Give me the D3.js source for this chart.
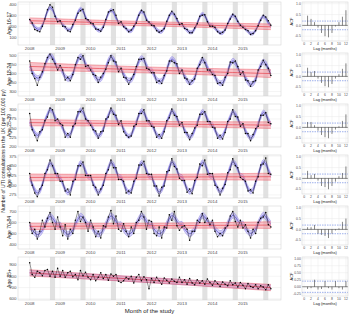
<!DOCTYPE html>
<html><head><meta charset="utf-8">
<script src="https://cdn.jsdelivr.net/npm/d3@7"></script>
<style>body{margin:0;background:#fff} svg{display:block;font-family:"Liberation Sans",Arial,sans-serif}</style>
</head><body><div id="chart"></div>
<script>
const groups = ['Age 16-17', 'Age 18-24', 'Age 25-39', 'Age 40-69', 'Age 70-84', 'Age 85+'];
const yearLabels = ['2008', '2009', '2010', '2011', '2012', '2013', '2014', '2015'];
const yTicks = [[100, 200, 300, 400], [300, 350, 400, 450, 500], [200, 225, 250, 275, 300], [275, 300, 325, 350, 375], [400, 500, 600, 700], [600, 700, 800, 900]];
const yDomains = [[30, 420], [275, 515], [198, 316], [267, 378], [360, 750], [590, 970]];
// grey periods, months since Jan 2008
const bandStart = [8, 20, 32, 44, 56, 68, 80, 92];
const bandEnd = [10, 22, 34, 46, 58, 70, 82, 94];

const obs16 = [262,230,170,160,150,200,265,350,395,372,290,240, 250,200,196,160,150,215,255,318,340,355,270,258,
  230,222,175,170,155,190,262,330,340,350,300,225, 240,195,180,150,165,200,230,300,345,330,255,238,
  210,205,160,145,160,178,245,300,335,310,270,215, 225,180,170,140,140,185,222,290,300,305,240,200,
  200,190,150,135,145,165,225,265,310,290,245,210, 190,170,160,125,135,160,205,255,300,285,250,210];
const fit16 = [255,225,195,175,175,210,270,335,370,350,295,255, 245,218,190,170,170,205,262,325,358,338,285,245,
  238,210,183,164,164,198,253,315,346,327,276,237, 230,203,177,158,158,191,244,304,334,316,266,229,
  222,196,171,152,152,184,236,293,322,304,257,221, 214,189,164,147,147,178,228,283,311,294,248,213,
  207,182,158,141,141,171,219,272,299,283,239,205, 199,176,152,136,136,165,211,262,288,272,230,198];
const obs18 = [470,400,372,335,380,410,455,490,510,480,455,420, 445,420,365,380,360,395,450,490,480,500,440,445,
  420,395,390,350,380,400,425,460,500,470,465,410, 430,380,375,340,370,395,440,480,480,485,430,425,
  405,405,350,360,345,390,415,470,470,460,455,400, 420,375,370,340,360,370,430,450,490,460,420,420,
  395,390,345,350,335,380,400,465,460,470,440,395, 410,365,360,330,355,360,420,440,475,450,430,390];
const fit18 = [438,412,386,375,379,403,443,482,501,491,460,434, 433,408,382,371,375,399,438,477,496,486,455,430,
  428,403,377,366,370,394,433,472,491,481,450,425, 423,398,372,361,365,389,428,467,486,476,445,420,
  418,393,367,356,360,384,423,462,481,471,440,415, 413,388,362,351,355,379,418,457,476,466,435,410,
  408,383,357,346,350,374,413,452,471,461,430,405, 403,378,352,341,345,369,408,447,466,456,425,400];
const obs25 = [290,245,230,215,240,245,270,280,305,300,270,275, 262,258,225,235,225,255,262,295,295,305,275,270,
  258,245,242,222,240,242,275,280,305,288,285,260, 270,240,230,225,228,255,260,290,290,300,270,270,
  255,252,225,232,222,240,270,278,302,285,282,258, 265,238,238,218,235,250,258,288,288,295,268,268,
  252,250,222,230,220,238,268,275,300,282,280,255, 262,235,235,215,232,248,255,285,285,292,265,262];
const fit25 = [265,250,237,230,235,250,270,287,300,295,280,267, 264,249,236,229,234,249,269,286,299,294,279,266,
  263,248,235,228,233,248,268,285,298,293,278,265, 262,247,234,227,232,247,267,284,297,292,277,264,
  261,246,233,226,231,246,266,283,296,291,276,263, 260,245,232,225,230,245,265,282,295,290,275,262,
  259,244,231,224,229,244,264,281,294,289,274,261, 258,243,230,223,228,243,263,280,293,288,273,260];
const obs40 = [330,300,280,270,290,300,330,340,365,350,330,330, 310,310,285,290,275,310,315,350,350,360,325,325,
  325,300,295,275,290,300,330,340,365,345,345,315, 315,310,280,285,280,310,318,352,352,362,330,328,
  328,298,298,272,295,298,335,338,368,348,342,318, 312,312,282,290,278,312,320,355,350,365,328,330,
  330,300,295,275,292,302,332,340,368,350,345,320, 315,310,285,288,280,310,322,352,355,370,330,328];
const fit40 = [318,303,288,280,285,303,323,343,356,351,336,321, 319,304,289,281,286,304,324,344,357,352,337,322,
  320,305,290,282,287,305,325,345,358,353,338,323, 320,305,290,282,287,305,325,345,358,353,338,323,
  321,306,291,283,288,306,326,346,359,354,339,324, 321,306,291,283,288,306,326,346,359,354,339,324,
  322,307,292,284,289,307,327,347,360,355,340,325, 322,307,292,284,289,307,327,347,360,355,340,325];
const obs70 = [600,500,540,450,520,620,560,640,690,600,540,650, 560,480,580,450,540,500,620,700,610,650,600,520,
  620,560,470,520,460,570,560,650,710,590,660,540, 520,590,520,470,560,500,600,620,700,650,540,620,
  610,500,480,560,460,560,550,670,620,700,570,530, 560,570,540,440,520,520,620,600,680,600,640,580,
  620,520,470,500,480,550,570,660,700,610,560,620, 550,580,520,460,540,500,600,640,650,690,580,560];
const fit70 = [576,536,506,491,501,531,581,626,656,641,606,576, 578,538,508,493,503,533,583,628,658,643,608,578,
  580,540,510,495,505,535,585,630,660,645,610,580, 581,541,511,496,506,536,586,631,661,646,611,581,
  583,543,513,498,508,538,588,633,663,648,613,583, 584,544,514,499,509,539,589,634,664,649,614,584,
  586,546,516,501,511,541,591,636,666,651,616,586, 587,547,517,502,512,542,592,637,667,652,617,587];
const obs85 = [920,815,790,845,830,805,850,860,800,845,790,870, 800,850,790,830,845,795,815,770,850,805,835,790,
  770,815,760,790,830,780,815,765,820,800,815,755, 745,760,790,775,800,740,790,815,760,795,770,690,
  780,745,790,760,730,785,765,740,775,755,745,790, 745,770,730,780,740,725,770,740,760,730,775,745,
  720,760,735,710,750,730,715,760,725,740,705,745, 720,690,735,710,700,725,690,715,705,680,725,690];
const fit85 = [830,829,827,826,825,823,822,820,819,818,816,815, 814,812,811,809,808,807,805,804,803,801,800,799,
  797,796,795,793,792,790,789,788,786,785,784,782, 781,779,778,777,775,774,773,771,770,768,767,766,
  764,763,762,760,759,757,756,755,753,752,751,749, 748,746,745,744,742,741,740,738,737,736,734,733,
  731,730,729,727,726,725,723,722,720,719,718,716, 715,714,712,711,709,708,707,705,704,703,701,700];
const observed = [obs16, obs18, obs25, obs40, obs70, obs85];
const fitted = [fit16, fit18, fit25, fit40, fit70, fit85];
const fitCI = [15, 14, 6, 6, 26, 22];
// linear trend: start, end, CI half width at ends and centre
const trendFrom = [250, 440, 265, 320, 565, 830];
const trendTo = [195, 400, 258, 322, 577, 700];
const trendCIEnd = [26, 22, 9, 9, 30, 28];
const trendCIMid = [16, 14, 6, 6, 20, 20];

const acfTicksA = [-0.5, 0, 0.5, 1];
const acfTicksB = [-0.25, 0, 0.25, 0.5, 0.75, 1];
const acfLags = [1,2,3,4,5,6,7,8,9,10,11,12];
const acf16 = [0.45, 0.3, 0.15, -0.1, -0.35, -0.5, -0.55, -0.35, -0.05, 0.15, 0.4, 0.7];
const acf18 = [0.4, 0.2, 0.25, -0.1, -0.3, -0.45, -0.5, -0.35, -0.1, 0.1, 0.35, 0.6];
const acf25 = [0.25, 0.25, 0.1, -0.15, -0.35, -0.45, -0.5, -0.3, -0.1, 0.05, 0.3, 0.6];
const acf40 = [0.35, 0.15, 0.2, -0.1, -0.35, -0.4, -0.5, -0.35, -0.15, 0.1, 0.25, 0.55];
const acf70 = [0.1, 0.1, 0.2, -0.2, -0.25, -0.3, -0.4, -0.2, -0.05, 0.05, 0.35, 0.5];
const acf85 = [-0.08, -0.05, 0.25, -0.1, -0.08, 0.2, -0.05, -0.1, 0.2, -0.05, -0.1, 0.2];
const acfs = [acf16, acf18, acf25, acf40, acf70, acf85];
const acfCI = 0.2;

const W = 350, H = 318;
const svg = d3.select('#chart').append('svg').attr('width', W).attr('height', H);
const L = { x0: 18, x1: 281, top: [2, 53, 104, 155, 206, 257], h: 43 };
const A = { x0: 302, x1: 348, h: 39 };
const grid = '#ebebeb', tickCol = '#4d4d4d';

const x = d3.scaleLinear().domain([-4.6, 99]).range([L.x0, L.x1]);
const xa = d3.scaleLinear().domain([-0.6, 12.6]).range([A.x0, A.x1]);

groups.forEach((g, i) => {
  const t = L.top[i], b = t + L.h;
  const y = d3.scaleLinear().domain(yDomains[i]).range([b, t]);
  const p = svg.append('g');
  p.selectAll('.hg').data(yTicks[i]).enter().append('line')
    .attr('x1', L.x0).attr('x2', L.x1).attr('y1', d => y(d)).attr('y2', d => y(d)).attr('stroke', grid).attr('stroke-width', 0.5);
  p.selectAll('.vg').data(yearLabels).enter().append('line')
    .attr('x1', (d, k) => x(k * 12)).attr('x2', (d, k) => x(k * 12)).attr('y1', t).attr('y2', b).attr('stroke', grid).attr('stroke-width', 0.5);
  p.selectAll('.band').data(bandStart).enter().append('rect')
    .attr('x', d => x(d)).attr('width', (d, k) => x(bandEnd[k]) - x(d)).attr('y', t).attr('height', L.h).attr('fill', '#d9d9d9').attr('opacity', 0.8);

  const clip = 'clip' + i;
  svg.append('clipPath').attr('id', clip).append('rect').attr('x', L.x0).attr('y', t).attr('width', L.x1 - L.x0).attr('height', L.h);
  const c = p.append('g').attr('clip-path', `url(#${clip})`);

  // seasonal fit with CI
  const fd = fitted[i].map((v, m) => ({ m, v }));
  c.append('path').attr('d', d3.area().x(d => x(d.m)).y0(d => y(d.v - fitCI[i])).y1(d => y(d.v + fitCI[i])).curve(d3.curveCatmullRom)(fd))
    .attr('fill', '#a79ff0').attr('opacity', 0.5);
  [-1, 1].forEach(s => c.append('path').attr('d', d3.line().x(d => x(d.m)).y(d => y(d.v + s * fitCI[i])).curve(d3.curveCatmullRom)(fd))
    .attr('fill', 'none').attr('stroke', '#7b6fe0').attr('stroke-width', 0.4));
  c.append('path').attr('d', d3.line().x(d => x(d.m)).y(d => y(d.v)).curve(d3.curveCatmullRom)(fd))
    .attr('fill', 'none').attr('stroke', '#4a3fc8').attr('stroke-width', 0.7);

  // linear trend with CI, drawn over the fit
  const tr = [0, 47.5, 95].map((m, k) => {
    const v = trendFrom[i] + (trendTo[i] - trendFrom[i]) * m / 95;
    const w = k === 1 ? trendCIMid[i] : trendCIEnd[i];
    return { m, v, lo: v - w, hi: v + w };
  });
  const trArea = d3.area().x(d => x(d.m)).y0(d => y(d.lo)).y1(d => y(d.hi)).curve(d3.curveBasis);
  c.append('path').attr('d', trArea(tr)).attr('fill', '#f58a98').attr('opacity', 0.5);
  ['lo', 'v', 'hi'].forEach(key => {
    c.append('path').attr('d', d3.line().x(d => x(d.m)).y(d => y(d[key])).curve(d3.curveBasis)(tr))
      .attr('fill', 'none').attr('stroke', '#e8454f').attr('stroke-width', key === 'v' ? 0.7 : 0.4);
  });

  // observed
  const od = observed[i].map((v, m) => ({ m, v }));
  c.append('path').attr('d', d3.line().x(d => x(d.m)).y(d => y(d.v))(od)).attr('fill', 'none').attr('stroke', '#111').attr('stroke-width', 0.45);
  c.selectAll('circle').data(od).enter().append('circle').attr('cx', d => x(d.m)).attr('cy', d => y(d.v)).attr('r', 0.75).attr('fill', '#000');

  p.append('rect').attr('x', L.x0).attr('y', t).attr('width', L.x1 - L.x0).attr('height', L.h).attr('fill', 'none').attr('stroke', '#cfcfcf').attr('stroke-width', 0.5);

  p.selectAll('.yl').data(yTicks[i]).enter().append('text').attr('x', L.x0 - 1.5).attr('y', d => y(d) + 1.5)
    .attr('text-anchor', 'end').attr('fill', tickCol).style('font-size', '4.4px').text(d => d);
  p.selectAll('.xl').data(yearLabels).enter().append('text').attr('x', (d, k) => x(k * 12)).attr('y', b + 4.8)
    .attr('text-anchor', 'middle').attr('fill', tickCol).style('font-size', '4.4px').text(d => d);
  p.append('text').attr('transform', `translate(11,${t + L.h / 2}) rotate(-90)`).attr('text-anchor', 'middle')
    .style('font-size', '5px').attr('fill', '#222').text(g);

  // ACF panel
  const ab = t + A.h;
  const ticks = i === 5 ? acfTicksB : acfTicksA;
  const ya = d3.scaleLinear().domain(i === 5 ? [-0.33, 1.06] : [-0.72, 1.08]).range([ab, t]);
  const q = svg.append('g');
  q.selectAll('.ah').data(ticks).enter().append('line').attr('x1', A.x0).attr('x2', A.x1).attr('y1', d => ya(d)).attr('y2', d => ya(d)).attr('stroke', grid).attr('stroke-width', 0.5);
  q.selectAll('.av').data(d3.range(0, 13, 2)).enter().append('line').attr('x1', d => xa(d)).attr('x2', d => xa(d)).attr('y1', t).attr('y2', ab).attr('stroke', grid).attr('stroke-width', 0.5);
  q.append('line').attr('x1', A.x0).attr('x2', A.x1).attr('y1', ya(0)).attr('y2', ya(0)).attr('stroke', '#222').attr('stroke-width', 0.5);
  [acfCI, -acfCI].forEach(v => q.append('line').attr('x1', A.x0).attr('x2', A.x1).attr('y1', ya(v)).attr('y2', ya(v))
    .attr('stroke', '#3f63d9').attr('stroke-width', 0.5).attr('stroke-dasharray', '1.5,1'));
  q.selectAll('.bar').data(acfs[i]).enter().append('line').attr('x1', (d, k) => xa(acfLags[k])).attr('x2', (d, k) => xa(acfLags[k]))
    .attr('y1', ya(0)).attr('y2', d => ya(d)).attr('stroke', '#222').attr('stroke-width', 0.55);
  q.append('rect').attr('x', A.x0).attr('y', t).attr('width', A.x1 - A.x0).attr('height', A.h).attr('fill', 'none').attr('stroke', '#cfcfcf').attr('stroke-width', 0.5);
  q.selectAll('.ayl').data(ticks).enter().append('text').attr('x', A.x0 - 1.2).attr('y', d => ya(d) + 1.2).attr('text-anchor', 'end')
    .attr('fill', tickCol).style('font-size', '3.4px').text(d => i === 5 ? d.toFixed(2) : d.toFixed(1));
  q.selectAll('.axl').data(d3.range(0, 13, 2)).enter().append('text').attr('x', d => xa(d)).attr('y', ab + 4)
    .attr('text-anchor', 'middle').attr('fill', tickCol).style('font-size', '3.4px').text(d => d);
  q.append('text').attr('x', (A.x0 + A.x1) / 2).attr('y', ab + 8.5).attr('text-anchor', 'middle').style('font-size', '4px').attr('fill', '#222').text('Lag (months)');
  q.append('text').attr('transform', `translate(${A.x0 - 9},${t + A.h / 2}) rotate(-90)`).attr('text-anchor', 'middle').style('font-size', '4px').attr('fill', '#222').text('ACF');
});

svg.append('text').attr('transform', `translate(5,${(L.top[0] + L.top[5] + L.h) / 2}) rotate(-90)`).attr('text-anchor', 'middle')
  .style('font-size', '5px').attr('fill', '#222').text('Number of UTI consultations in the UK (per 100,000 py)');
svg.append('text').attr('x', (L.x0 + L.x1) / 2).attr('y', 313).attr('text-anchor', 'middle').style('font-size', '6px').attr('fill', '#222').text('Month of the study');
</script></body></html>
